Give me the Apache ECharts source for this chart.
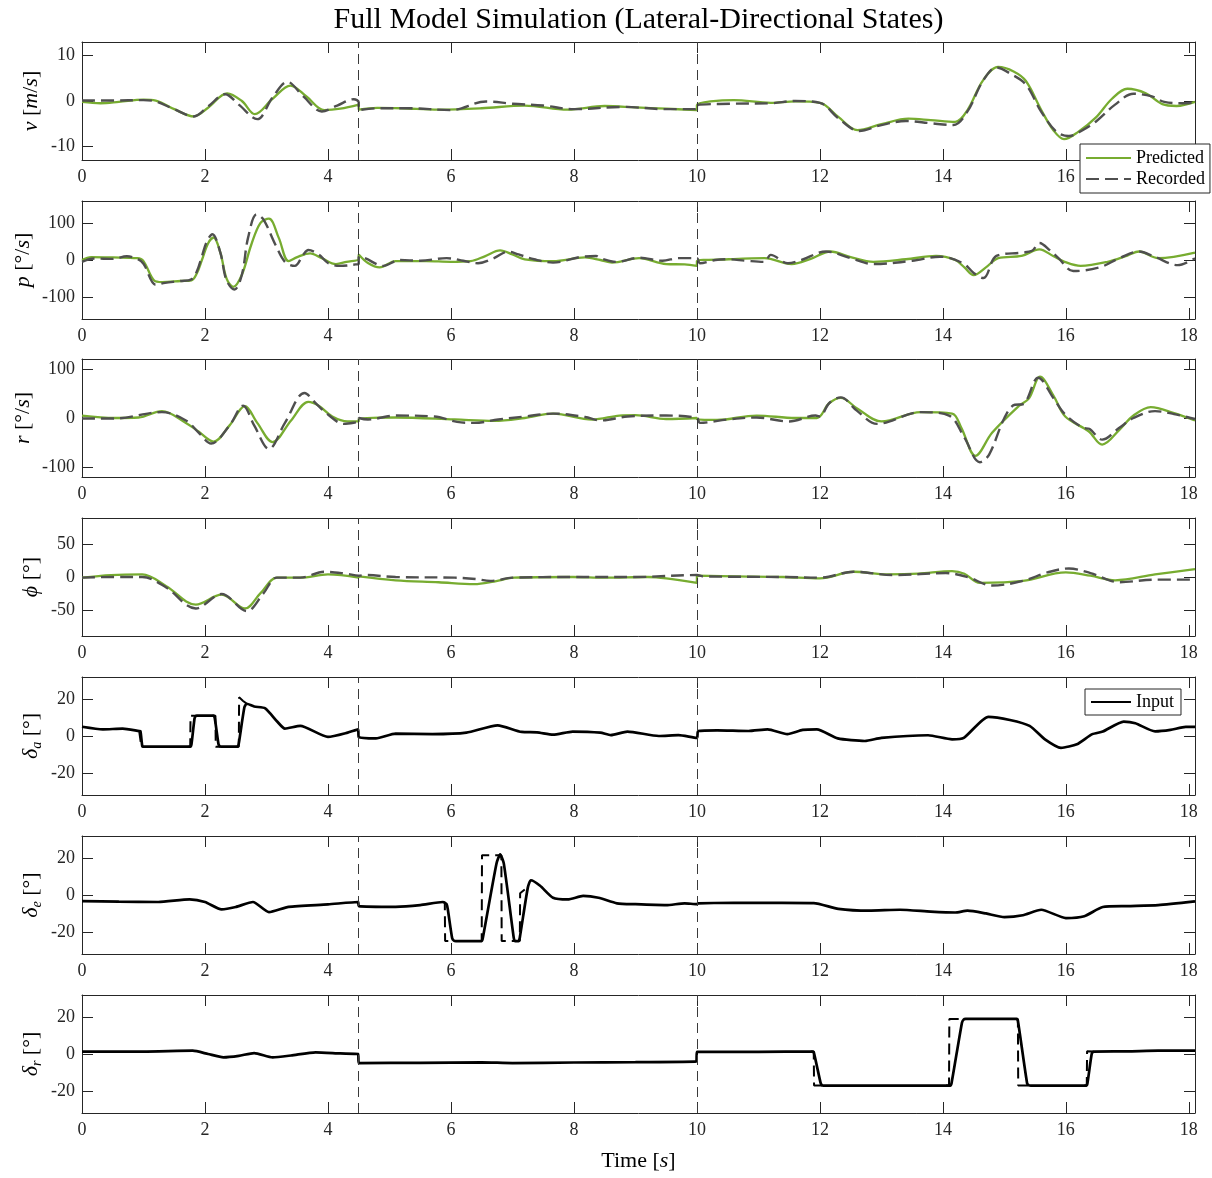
<!DOCTYPE html>
<html>
<head>
<meta charset="utf-8">
<title>Full Model Simulation (Lateral-Directional States)</title>
<script src="https://cdn.jsdelivr.net/npm/echarts@6/dist/echarts.min.js"></script>
<style>
  html, body { margin: 0; padding: 0; background: #ffffff; }
  #chart { width: 1212px; height: 1178px; }
</style>
</head>
<body>
<div id="chart"></div>
<script>
// ---- tick positions ----
const timeTicks = [0, 2, 4, 6, 8, 10, 12, 14, 16, 18];
const vTicks = [-10, 0, 10];
const pTicks = [-100, 0, 100];
const rTicks = [-100, 0, 100];
const phiTicks = [-50, 0, 50];
const inputTicks = [-20, 0, 20];
// segment boundaries between the three flight pieces [s]
const segmentBreaks = [4.5, 10];

// ---- lateral velocity v [m/s] : [time, value] ----
const vPred = [[0,-0.2],[0.3,-0.5],[0.6,-0.2],[1.0,0.3],[1.2,0.1],[1.5,-1.8],[1.82,-3.4],[2.05,-1.5],[2.36,1.7],[2.6,0],[2.81,-2.9],[3.1,0.5],[3.39,3.4],[3.65,1.0],[3.94,-2.0],[4.2,-1.7],[4.5,-0.8],[4.5,-1.9],[4.8,-1.5],[5.2,-1.6],[5.8,-1.9],[6.5,-1.6],[7.2,-1.0],[7.9,-1.9],[8.5,-1.1],[9.0,-1.4],[9.5,-1.7],[10,-2.0],[10,-0.9],[10.6,0.2],[11.2,-0.4],[11.6,-0.1],[12.0,-0.4],[12.3,-3.5],[12.61,-6.4],[13.0,-5.1],[13.44,-3.9],[13.8,-4.2],[14.2,-4.6],[14.4,-2.0],[14.65,4.5],[14.9,7.5],[15.15,6.5],[15.35,4.4],[15.6,-2.0],[15.8,-6.5],[15.97,-8.4],[16.2,-6.8],[16.49,-3.6],[16.75,0.5],[17.0,2.7],[17.3,1.7],[17.57,-0.7],[17.8,-1.1],[18.1,-0.2]];
const vRec = [[0,0.1],[0.5,0.1],[1.0,0.2],[1.2,-0.1],[1.5,-1.8],[1.82,-3.4],[2.05,-1.2],[2.33,1.5],[2.55,-0.8],[2.85,-4.0],[3.1,0.8],[3.34,4.2],[3.6,1.0],[3.9,-2.3],[4.15,-1.0],[4.42,0.4],[4.5,-0.3],[4.5,-2.0],[4.8,-1.6],[5.3,-1.6],[6.0,-2.0],[6.57,-0.1],[7.0,-0.6],[7.5,-1.0],[8.0,-1.8],[8.8,-1.3],[9.5,-1.8],[10,-1.8],[10,-1.0],[10.6,-0.6],[11.2,-0.5],[11.6,0],[12.0,-0.4],[12.3,-3.8],[12.64,-6.6],[13.0,-5.3],[13.4,-4.4],[13.8,-4.9],[14.17,-5.3],[14.4,-2.3],[14.65,4.4],[14.87,7.4],[15.1,6.0],[15.35,3.6],[15.6,-2.4],[15.85,-6.8],[16.05,-7.7],[16.25,-6.6],[16.5,-4.4],[16.8,-0.8],[17.1,1.6],[17.4,1.0],[17.6,-0.2],[17.9,-0.5],[18.1,-0.3]];

// ---- roll rate p [deg/s] ----
const pPred = [[0,0],[0.15,8],[0.5,7],[0.9,5],[1.0,-3],[1.17,-55],[1.3,-60],[1.6,-57],[1.78,-55],[1.87,-35],[1.95,0],[2.05,45],[2.14,61],[2.25,20],[2.35,-50],[2.46,-73],[2.6,-40],[2.75,40],[2.9,100],[3.04,112],[3.2,60],[3.36,-3],[3.5,8],[3.71,18],[3.9,5],[4.13,-11],[4.3,-5],[4.5,3],[4.5,15],[4.65,-8],[4.84,-20],[5.1,-3],[5.6,-3],[6.0,-5],[6.32,-3],[6.55,10],[6.8,26],[7.0,15],[7.2,2],[7.66,-3],[8.18,7],[8.43,0],[8.62,-7],[9.06,5],[9.5,-11],[9.8,-12],[10,-16],[10,-3],[10.52,2],[11.1,5],[11.54,-11],[11.85,3],[12.17,23],[12.5,8],[12.87,-5],[13.4,2],[13.89,11],[14.2,0],[14.35,-20],[14.5,-41],[14.7,-20],[14.9,5],[15.28,11],[15.57,29],[15.8,10],[15.98,-5],[16.24,-16],[16.68,-5],[17.0,12],[17.19,23],[17.5,5],[18.1,20]];
const pRec = [[0,-5],[0.2,4],[0.5,3],[0.73,10],[0.9,3],[1.0,-10],[1.2,-67],[1.35,-62],[1.6,-57],[1.78,-52],[1.87,-30],[1.95,10],[2.03,50],[2.12,70],[2.25,20],[2.35,-55],[2.48,-80],[2.6,-40],[2.7,60],[2.84,124],[2.95,110],[3.15,40],[3.3,-5],[3.46,-16],[3.6,15],[3.68,27],[3.85,15],[4.0,-8],[4.19,-16],[4.45,-12],[4.5,-10],[4.5,9],[4.6,5],[4.9,-16],[5.16,0],[5.5,-2],[5.93,5],[6.2,-2],[6.44,-9],[6.7,5],[6.93,23],[7.1,15],[7.35,2],[7.66,-7],[8.1,8],[8.36,11],[8.43,5],[8.69,-5],[9.06,6],[9.44,-2],[9.7,5],[10,5],[10.05,-9],[10.3,0],[10.5,2],[10.8,-2],[11.1,-5],[11.2,14],[11.48,-9],[11.7,0],[12.1,23],[12.5,5],[12.87,-11],[13.5,-2],[13.95,9],[14.33,-9],[14.5,-35],[14.66,-49],[14.87,11],[15.28,20],[15.45,25],[15.57,46],[15.75,25],[15.88,5],[16.12,-30],[16.55,-20],[16.87,5],[17.19,23],[17.44,9],[17.82,-14],[18.1,5]];

// ---- yaw rate r [deg/s] ----
const rPred = [[0,5],[0.53,0],[0.92,1],[1.3,14],[1.69,-10],[1.9,-28],[2.14,-48],[2.4,-15],[2.65,24],[2.85,-10],[3.1,-49],[3.4,-5],[3.68,33],[3.85,25],[4.07,3],[4.32,-7],[4.5,-7],[4.5,-2],[5.1,1],[6.06,-3],[6.7,-6],[7.2,0],[7.66,9],[8.3,-3],[8.74,5],[9.0,6],[9.5,-2],[10,0],[10,-3],[10.33,-4],[10.97,5],[11.6,0],[11.95,0],[12.15,30],[12.34,41],[12.6,20],[13.0,-7],[13.64,12],[14.15,9],[14.3,-20],[14.53,-77],[14.8,-30],[15.23,24],[15.4,40],[15.58,84],[15.8,45],[15.99,3],[16.37,-27],[16.59,-54],[16.87,-24],[17.1,5],[17.38,22],[17.76,10],[18.1,-5]];
const rRec = [[0,-1],[0.53,-1],[1.3,12],[1.69,-5],[1.9,-30],[2.1,-52],[2.4,-15],[2.62,25],[2.8,-15],[3.04,-63],[3.3,-10],[3.62,51],[3.8,30],[4.0,7],[4.26,-12],[4.45,-9],[4.5,-7],[4.5,0],[4.65,-3],[5.1,5],[5.73,3],[6.1,-8],[6.38,-10],[6.77,-3],[7.2,3],[7.66,9],[8.18,2],[8.43,-5],[8.87,3],[9.5,5],[10,0],[10.05,-10],[10.5,-3],[10.97,1],[11.5,-7],[11.93,5],[12.0,3],[12.15,30],[12.34,42],[12.6,15],[12.93,-12],[13.64,12],[14.1,5],[14.35,-40],[14.6,-90],[14.75,-75],[15.0,0],[15.17,27],[15.3,28],[15.55,82],[15.8,40],[15.99,7],[16.28,-20],[16.38,-22],[16.59,-44],[16.87,-20],[17.1,0],[17.45,14],[17.76,8],[18.1,-2]];

// ---- bank angle phi [deg] ----
const phiPred = [[0,-1],[0.47,3],[0.98,4],[1.37,-14],[1.85,-42],[2.27,-27],[2.65,-48],[2.9,-25],[3.17,-1],[3.55,-1],[4.0,4],[4.5,-1],[4.5,1],[5.1,-5],[5.8,-8],[6.38,-11],[6.7,-7],[7.03,-1],[7.98,0],[8.5,-1],[9.2,0],[9.5,-2],[10,-9],[10,2],[10.65,1],[11.4,0],[12,-2],[12.55,8],[13.1,4],[13.6,5],[14.15,9],[14.35,5],[14.6,-9],[15.3,-6],[16.0,7],[16.4,2],[16.8,-5],[17.45,4],[18.1,12]];
const phiRec = [[0,-1],[0.5,0],[0.98,0],[1.37,-16],[1.85,-48],[2.27,-26],[2.68,-52],[2.95,-25],[3.17,-1],[3.55,-1],[3.94,8],[4.3,5],[4.5,2],[4.6,3],[5.1,0],[6.06,-1],[6.4,-3],[6.64,-6],[7.0,-1],[8.0,0],[9.0,0],[10,3],[10.1,1],[11.4,0],[12,-1],[12.55,8],[13.2,3],[14.05,6],[14.4,0],[14.8,-13],[15.3,-6],[15.7,7],[16.05,13],[16.4,6],[16.87,-8],[17.45,-4],[18.1,-4]];

// ---- aileron deflection delta_a [deg] ----
const daIn = [[0,5],[0.34,3.6],[0.66,4],[0.93,2.7],[0.95,2.6],[0.98,-5.5],[1.0,-5.8],[1.76,-5.8],[1.78,-4.5],[1.83,9.5],[1.85,10.8],[1.87,11],[2.14,11],[2.16,9.5],[2.22,-4.5],[2.24,-5.6],[2.26,-5.8],[2.53,-5.8],[2.55,-4],[2.64,15.5],[2.68,17.5],[2.8,16],[2.98,15],[3.17,8],[3.3,4],[3.55,5.5],[4.0,-0.5],[4.32,1.8],[4.49,3.6],[4.5,-0.5],[4.78,-1.3],[5.1,1.3],[5.7,1.0],[6.25,1.8],[6.76,5.8],[7.15,2.2],[7.4,2.0],[7.66,0.7],[7.98,2.4],[8.43,1.8],[8.6,0.5],[8.87,2.4],[9.38,0],[9.7,0.5],[10,-1],[10.02,2.7],[10.33,3.1],[10.84,2.7],[11.15,3.6],[11.47,1],[11.72,3.3],[11.95,3.6],[12.29,-1.3],[12.73,-2.7],[13.0,-1],[13.76,0.4],[14.15,-1.8],[14.34,-1],[14.74,10.4],[15.09,8.7],[15.41,5.5],[15.66,-1.8],[15.92,-6.4],[16.18,-4.5],[16.43,1],[16.6,2.4],[16.94,7.8],[17.13,6.9],[17.45,2.5],[17.7,3.3],[17.95,5],[18.1,4.9]];
const daCmdPieces = [
  [[0.93,2.7],[0.96,2.7],[0.965,-5.8],[1.0,-5.8]],
  [[1.72,-5.8],[1.76,-5.8],[1.765,11],[1.86,11]],
  [[2.12,11],[2.17,11],[2.175,-5.8],[2.25,-5.8]],
  [[2.5,-5.8],[2.55,-5.8],[2.555,21],[2.62,19],[2.68,17.5]]
];

// ---- elevator deflection delta_e [deg] ----
const deIn = [[0,-3.3],[0.6,-3.6],[1.24,-3.8],[1.75,-2.4],[2.0,-3.8],[2.27,-7.8],[2.5,-6.5],[2.78,-3.8],[3.04,-9.3],[3.36,-6.4],[4.0,-5.1],[4.49,-3.8],[4.5,-6],[5.1,-6.4],[5.5,-5.5],[5.87,-3.8],[5.93,-5],[5.95,-8],[6.02,-23.5],[6.05,-24.8],[6.08,-25],[6.5,-25],[6.52,-23],[6.74,17],[6.8,22],[6.86,17],[7.02,-23],[7.04,-25],[7.1,-25],[7.12,-23],[7.25,4],[7.3,8],[7.45,5],[7.66,-1.5],[7.9,-2.4],[8.15,-0.5],[8.4,-1.5],[8.7,-4.5],[9.0,-5],[9.5,-5.5],[9.8,-4.5],[10,-5],[10.02,-4.5],[10.6,-4.2],[11.2,-4.3],[11.9,-4.4],[12.3,-7.5],[12.8,-8.5],[13.3,-8],[13.8,-9],[14.2,-9.5],[14.4,-8.5],[14.7,-10],[15.0,-12],[15.3,-11],[15.6,-8],[16.0,-12.5],[16.3,-11.5],[16.6,-6.5],[17.0,-6],[17.5,-5.5],[18.1,-3.5]];
const deCmdPieces = [
  [[5.85,-3.8],[5.9,-4],[5.905,-25],[6.05,-25]],
  [[6.45,-25],[6.5,-25],[6.505,21.5],[6.82,21.5],[6.825,-25],[7.12,-25],[7.125,1],[7.2,3]]
];

// ---- rudder deflection delta_r [deg] ----
const drIn = [[0,1.3],[1.0,1.3],[1.8,1.8],[2.05,0],[2.3,-1.8],[2.55,-1],[2.8,0.5],[3.1,-1.8],[3.4,-0.8],[3.8,0.9],[4.2,0.3],[4.49,0],[4.5,-4.9],[5.5,-4.8],[6.5,-4.5],[7.0,-4.9],[8.0,-4.6],[9.0,-4.4],[9.99,-4],[10,1.1],[11,1.2],[11.88,1.3],[11.9,1.0],[12.01,-15.5],[12.03,-16.8],[12.06,-17.1],[14.12,-17.1],[14.14,-16],[14.31,17],[14.34,18.8],[14.37,19],[15.2,19],[15.22,18],[15.37,-16],[15.4,-17],[15.43,-17.1],[16.33,-17.1],[16.35,-16],[16.42,0],[16.45,1.3],[17,1.4],[17.5,1.8],[18.1,1.8]];
const drCmdPieces = [
  [[11.85,1.3],[11.9,1.3],[11.905,-17.1],[12.06,-17.1]],
  [[14.05,-17.1],[14.1,-17.1],[14.105,19],[14.36,19]],
  [[15.18,19],[15.22,19],[15.225,-17.1],[15.4,-17.1]],
  [[16.3,-17.1],[16.34,-17.1],[16.345,1.5],[16.45,1.3]]
];

// ---------------------------------------------------------------
const FONT = "'Liberation Serif', 'DejaVu Serif', serif";
const INK = '#262626';
const T_MAX = 18.1;
const gridTops = [42, 201, 359, 518, 677, 836, 995];
const PLOT_LEFT = 82, PLOT_W = 1113, PLOT_H = 118;

// join separate step pieces into one series with gaps between them
function withGaps(pieces) {
  const out = [];
  pieces.forEach((p, k) => { if (k) out.push(['-', '-']); out.push(...p); });
  return out;
}

const styles = {
  Predicted: { color: '#77AC30', width: 2.3, type: 'solid', smooth: 0.35, z: 3 },
  Recorded:  { color: '#4f4f4f', width: 2.4, type: [13, 6], smooth: 0.35, z: 4 },
  Command:   { color: '#000000', width: 2.0, type: [11, 6], smooth: false, z: 3 },
  Input:     { color: '#000000', width: 2.7, type: 'solid', smooth: 0.2, z: 4 }
};

const panels = [
  { label: '{i|v} [{i|m}/{i|s}]', lim: 13,  ticks: vTicks,     gap: 38, lines: [['Predicted', vPred], ['Recorded', vRec]] },
  { label: '{i|p} [°/{i|s}]',     lim: 160, ticks: pTicks,     gap: 46, lines: [['Predicted', pPred], ['Recorded', pRec]] },
  { label: '{i|r} [°/{i|s}]',     lim: 120, ticks: rTicks,     gap: 46, lines: [['Predicted', rPred], ['Recorded', rRec]] },
  { label: '{i|ϕ} [°]',           lim: 90,  ticks: phiTicks,   gap: 38, lines: [['Predicted', phiPred], ['Recorded', phiRec]] },
  { label: '{i|δ}{s|a} [°]',      lim: 32,  ticks: inputTicks, gap: 38, lines: [['Command', withGaps(daCmdPieces)], ['Input', daIn]] },
  { label: '{i|δ}{s|e} [°]',      lim: 32,  ticks: inputTicks, gap: 38, lines: [['Command', withGaps(deCmdPieces)], ['Input', deIn]] },
  { label: '{i|δ}{s|r} [°]',      lim: 32,  ticks: inputTicks, gap: 38, lines: [['Command', withGaps(drCmdPieces)], ['Input', drIn]] }
];

const richStyles = {
  i: { fontFamily: FONT, fontSize: 22, fontStyle: 'italic', color: '#000', lineHeight: 26 },
  s: { fontFamily: FONT, fontSize: 14, fontStyle: 'italic', color: '#000', lineHeight: 14, verticalAlign: 'bottom' }
};

const grid = [], xAxis = [], yAxis = [], series = [];

panels.forEach((pn, i) => {
  grid.push({ left: PLOT_LEFT, top: gridTops[i], width: PLOT_W, height: PLOT_H, containLabel: false, outerBoundsMode: 'none' });

  const frameLine = { show: true, onZero: false, lineStyle: { color: INK, width: 1 } };
  const tickStyle = { color: INK, width: 1 };
  const labelStyle = { fontFamily: FONT, fontSize: 18, color: INK };

  // bottom time axis with labels, top mirror with ticks only
  const isLast = i === panels.length - 1;
  xAxis.push({
    type: 'value', gridIndex: i, position: 'bottom', min: 0, max: T_MAX,
    axisLine: frameLine,
    axisTick: { show: true, inside: true, length: 11, customValues: timeTicks, lineStyle: tickStyle },
    axisLabel: Object.assign({ show: true, margin: 8, customValues: timeTicks }, labelStyle),
    splitLine: { show: false },
    name: isLast ? 'Time [{i|s}]' : '',
    nameLocation: 'middle', nameGap: 35, nameMoveOverlap: false,
    nameTextStyle: { fontFamily: FONT, fontSize: 22, color: '#000', lineHeight: 26, rich: richStyles }
  });
  xAxis.push({
    type: 'value', gridIndex: i, position: 'top', min: 0, max: T_MAX,
    axisLine: frameLine,
    axisTick: { show: true, inside: true, length: 11, customValues: timeTicks, lineStyle: tickStyle },
    axisLabel: { show: false },
    splitLine: { show: false }
  });

  yAxis.push({
    type: 'value', gridIndex: i, position: 'left', min: -pn.lim, max: pn.lim,
    axisLine: frameLine,
    axisTick: { show: true, inside: true, length: 11, customValues: pn.ticks, lineStyle: tickStyle },
    axisLabel: Object.assign({ show: true, margin: 7, customValues: pn.ticks }, labelStyle),
    splitLine: { show: false },
    name: pn.label, nameLocation: 'middle', nameGap: pn.gap, nameMoveOverlap: false,
    nameTextStyle: { fontFamily: FONT, fontSize: 22, color: '#000', lineHeight: 26, rich: richStyles }
  });
  yAxis.push({
    type: 'value', gridIndex: i, position: 'right', min: -pn.lim, max: pn.lim,
    axisLine: frameLine,
    axisTick: { show: true, inside: true, length: 11, customValues: pn.ticks, lineStyle: tickStyle },
    axisLabel: { show: false },
    splitLine: { show: false }
  });

  pn.lines.forEach(([name, data], k) => {
    const st = styles[name];
    const s = {
      type: 'line', name, data,
      xAxisIndex: 2 * i, yAxisIndex: 2 * i,
      symbol: 'none', showSymbol: false,
      smooth: st.smooth, connectNulls: false,
      color: st.color, z: st.z,
      lineStyle: { color: st.color, width: st.width, type: st.type },
      emphasis: { disabled: true }, silent: true
    };
    if (k === 0) {
      s.markLine = {
        silent: true, symbol: ['none', 'none'], label: { show: false },
        lineStyle: { color: '#3a3a3a', width: 1, type: [10, 6] },
        emphasis: { disabled: true },
        data: segmentBreaks.map(t => ({ xAxis: t }))
      };
    }
    series.push(s);
  });
});

const legendCommon = {
  orient: 'vertical', itemGap: 3, itemHeight: 14,
  backgroundColor: '#ffffff', borderColor: INK, borderWidth: 1, borderRadius: 0,
  textStyle: { fontFamily: FONT, fontSize: 18, color: '#000' },
  itemStyle: { opacity: 0 },
  selectedMode: false, z: 10
};

const option = {
  animation: false,
  backgroundColor: '#ffffff',
  grid, xAxis, yAxis, series,
  legend: [
    Object.assign({}, legendCommon, { left: 1080, top: 144, itemWidth: 45, padding: [5, 5, 5, 5], data: ['Predicted', 'Recorded'] }),
    Object.assign({}, legendCommon, { left: 1085, top: 689, itemWidth: 40, padding: [4, 7, 4, 5], data: ['Input'] })
  ],
  graphic: [{
    type: 'text', x: PLOT_LEFT + PLOT_W / 2, y: 20, silent: true,
    style: {
      text: 'Full Model Simulation (Lateral-Directional States)',
      font: "30px 'Liberation Serif', 'DejaVu Serif', serif",
      fill: '#000', textAlign: 'center', textVerticalAlign: 'middle'
    }
  }]
};

const chart = echarts.init(document.getElementById('chart'));
chart.setOption(option);
</script>
</body>
</html>
